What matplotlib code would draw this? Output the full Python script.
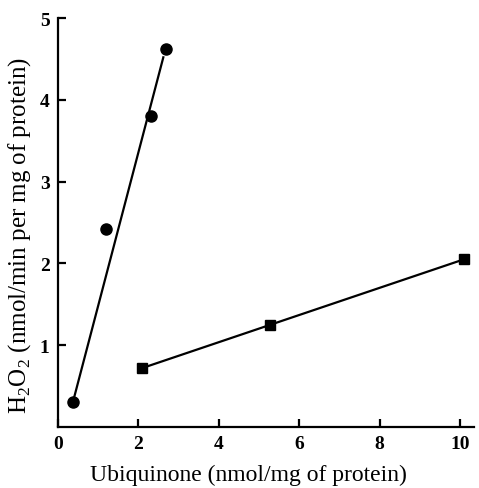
import matplotlib.pyplot as plt

# circles: steep series
circ_x = [0.37, 1.2, 2.32, 2.69]
circ_y = [0.30, 2.42, 3.80, 4.62]
circ_fit_x = [0.37, 2.62]
circ_fit_y = [0.30, 4.52]

# squares: shallow series
sq_x = [2.1, 5.26, 10.1]
sq_y = [0.72, 1.25, 2.05]

x_ticks = [0, 2, 4, 6, 8, 10]
y_ticks = [1, 2, 3, 4, 5]

plt.rcParams['font.family'] = ['Liberation Serif', 'DejaVu Serif']
plt.rcParams['mathtext.fontset'] = 'custom'
plt.rcParams['mathtext.rm'] = 'Liberation Serif'

fig = plt.figure(figsize=(4.79, 4.89), dpi=100)
ax = fig.add_axes([0.121, 0.125, 0.869, 0.836])

ax.plot(circ_fit_x, circ_fit_y, color='black', lw=1.6)
ax.plot(circ_x, circ_y, 'o', color='black', ms=8)
ax.plot([sq_x[0], sq_x[-1]], [sq_y[0], sq_y[-1]], color='black', lw=1.6)
ax.plot(sq_x, sq_y, 's', color='black', ms=6.5)

ax.set_xlim(0, 10.35)
ax.set_ylim(0, 5)
ax.spines['top'].set_visible(False)
ax.spines['right'].set_visible(False)
ax.spines['left'].set_linewidth(1.6)
ax.spines['bottom'].set_linewidth(1.6)

ax.set_xticks(x_ticks)
ax.set_yticks(y_ticks)
ax.tick_params(direction='in', length=6, width=1.6, labelsize=14, pad=6)
for lab in ax.get_xticklabels() + ax.get_yticklabels():
    lab.set_fontweight('bold')

ax.set_xlabel('Ubiquinone (nmol/mg of protein)', fontsize=17, labelpad=7)
ax.xaxis.set_label_coords(0.457, -0.09)
ax.set_ylabel('H$_2$O$_2$ (nmol/min per mg of protein)', fontsize=18)
ax.yaxis.set_label_coords(-0.06, 0.47)

fig.savefig('out.png', dpi=100)
